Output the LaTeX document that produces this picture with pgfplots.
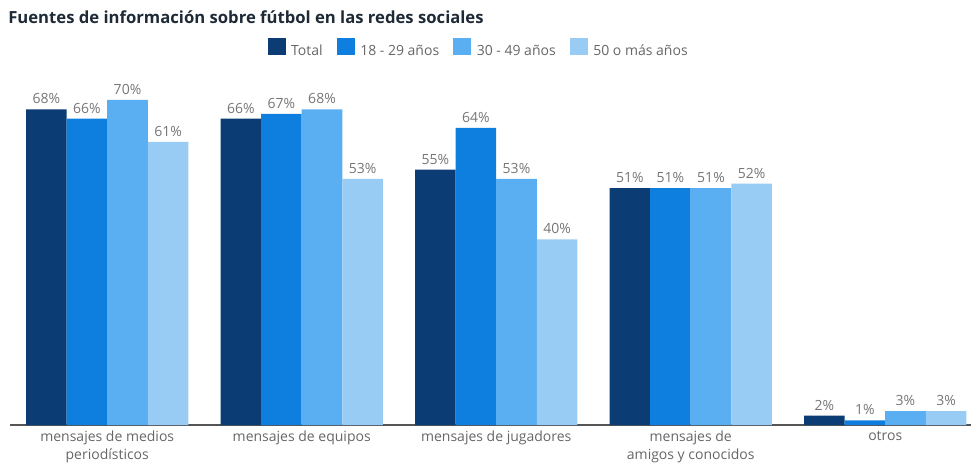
\documentclass[border=0pt]{standalone}
\usepackage{fontspec}
\setmainfont{Open Sans}
\usepackage{pgfplots}
\pgfplotsset{compat=1.18}
\definecolor{cTot}{HTML}{0B3C73}
\definecolor{cA}{HTML}{0E7FDE}
\definecolor{cB}{HTML}{5AAEF2}
\definecolor{cC}{HTML}{99CCF5}
\definecolor{labgray}{HTML}{666666}
\definecolor{valgray}{HTML}{767676}
\definecolor{titlecol}{HTML}{1E2A36}
\definecolor{axgray}{HTML}{555555}
\begin{document}
\begin{tikzpicture}
\useasboundingbox (-7.5pt,-30pt) rectangle (720.75pt,318.75pt);
\begin{axis}[
 scale only axis, width=720.75pt, height=255pt,
 xmin=-0.5, xmax=4.441, ymin=0, ymax=73.23,
 ybar=0pt, bar width=30.4pt,
 axis y line=none, axis x line=bottom,
 x axis line style={-, draw=axgray, line width=1.1pt},
 xtick={0,1,2,3,4},
 xticklabels={{mensajes de medios\\periodísticos},{mensajes de equipos},{mensajes de jugadores},{mensajes de\\amigos y conocidos},{otros}},
 major tick length=0pt,
 xticklabel style={align=center, font=\fontsize{10.5}{13.5}\selectfont, text=labgray, inner sep=0pt, yshift=-4.5pt},
 nodes near coords={\pgfmathprintnumber{\pgfplotspointmeta}\%},
 nodes near coords style={font=\fontsize{10.5}{12.5}\selectfont, text=valgray, anchor=south, inner sep=0pt, yshift=3.8pt},
 /pgf/number format/assume math mode=true,
 clip=false,
 legend columns=4,
 legend style={at={(0.488,1.106)}, anchor=center, draw=none, fill=none, font=\fontsize{10.5}{12.5}\selectfont, text=labgray,
   /tikz/every odd column/.append style={column sep=2.2pt},
   /tikz/every even column/.append style={column sep=8.5pt}},
 legend image code/.code={\fill[#1] (0pt,-2.6pt) rectangle (13.5pt,10.1pt);},
]
\addplot[fill=cTot, draw=none] coordinates {(0,68) (1,66) (2,55) (3,51) (4,2)};
\addplot[fill=cA, draw=none] coordinates {(0,66) (1,67) (2,64) (3,51) (4,1)};
\addplot[fill=cB, draw=none] coordinates {(0,70) (1,68) (2,53) (3,51) (4,3)};
\addplot[fill=cC, draw=none] coordinates {(0,61) (1,53) (2,40) (3,52) (4,3)};
\legend{Total, 18 - 29 años, 30 - 49 años, 50 o más años}
\end{axis}
\node[anchor=base west, font=\fontsize{12.5}{15}\selectfont\bfseries, text=titlecol, inner sep=0pt] at (-1.5pt,300.75pt) {Fuentes de información sobre fútbol en las redes sociales};
\end{tikzpicture}
\end{document}
